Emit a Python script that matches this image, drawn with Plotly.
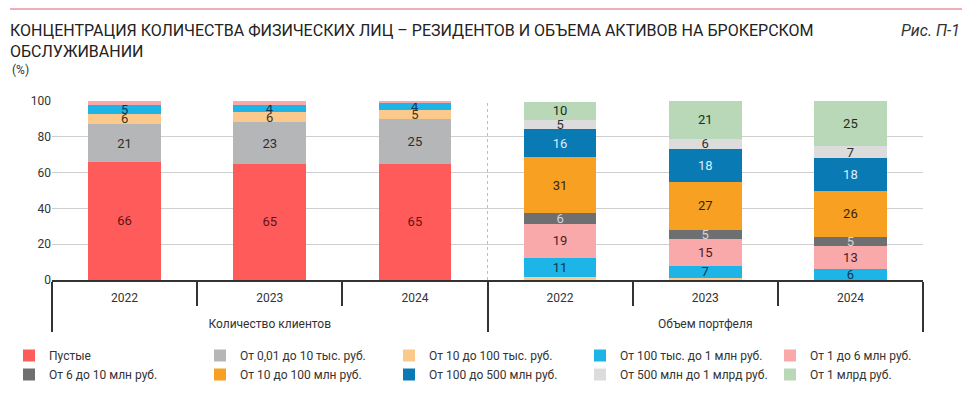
import plotly.graph_objects as go

# ---- data ----
groups = ["Количество клиентов"] * 3 + ["Объем портфеля"] * 3
years = ["2022", "2023", "2024"] * 2

series_names = [
    "Пустые",
    "От 0,01 до 10 тыс. руб.",
    "От 10 до 100 тыс. руб.",
    "От 100 тыс. до 1 млн руб.",
    "От 1 до 6 млн руб.",
    "От 6 до 10 млн руб.",
    "От 10 до 100 млн руб.",
    "От 100 до 500 млн руб.",
    "От 500 млн до 1 млрд руб.",
    "От 1 млрд руб.",
]
pustye        = [66, 65, 65, 0, 0, 0]
r_001_10k     = [21, 23, 25, 0.5, 0, 0]
r_10_100k     = [6, 6, 5, 1, 1, 0]
r_100k_1m     = [5, 4, 4, 11, 7, 6]
r_1_6m        = [2, 2, 1, 19, 15, 13]
r_6_10m       = [0, 0, 0, 6, 5, 5]
r_10_100m     = [0, 0, 0, 31, 27, 26]
r_100_500m    = [0, 0, 0, 16, 18, 18]
r_500m_1bn    = [0, 0, 0, 5, 6, 7]
r_1bn         = [0, 0, 0, 10, 21, 25]

series_values = [pustye, r_001_10k, r_10_100k, r_100k_1m, r_1_6m,
                 r_6_10m, r_10_100m, r_100_500m, r_500m_1bn, r_1bn]

colors = ["#FF5B5B", "#B5B6B8", "#FAC98B", "#1DB4E8", "#F9A9AA",
          "#6E6F71", "#F8A021", "#0A7AB5", "#DCDCDD", "#B8D8B7"]
text_colors = ["#5E1414", "#2E2E2E", "#3E3320", "#0E3550", "#4A1C1C",
               "#D6D6D6", "#33260E", "#D8EEFA", "#2E2E2E", "#1E2E1E"]

FONT = "Roboto, Arial, sans-serif"

W, H = 975, 394
ML, MR, MT, MB = 52, 52, 101, 114
plot_w = W - ML - MR
plot_h = H - MT - MB

legend_ids = ["legend", "legend2", "legend3", "legend4", "legend5"]
col_marker_x = [35, 226, 415, 606, 796]

fig = go.Figure()
for i, (name, vals, c, tc) in enumerate(zip(series_names, series_values, colors, text_colors)):
    fig.add_trace(go.Bar(
        name=name,
        x=[groups, [y + "<br> " for y in years]],
        y=vals,
        marker=dict(color=c, line=dict(width=0)),
        text=[str(int(v)) if v >= 4 else "" for v in vals],
        textposition="inside",
        insidetextanchor="middle",
        textangle=0,
        textfont=dict(color=tc, size=13, family=FONT),
        hoverinfo="skip",
        legend=legend_ids[i % 5],
        legendgroup=name,
    ))

layout_legends = {}
for k, lid in enumerate(legend_ids):
    layout_legends[lid] = dict(
        orientation="v",
        xref="container", x=(col_marker_x[k] - 26) / W, xanchor="left",
        yref="container", y=1 - 341 / H, yanchor="top",
        font=dict(family=FONT, size=12, color="#333333"),
        traceorder="normal",
        tracegroupgap=2,
        bgcolor="rgba(0,0,0,0)",
        itemclick=False, itemdoubleclick=False,
    )

fig.update_layout(
    barmode="stack",
    bargap=0.5,
    width=W, height=H,
    margin=dict(l=ML, r=MR, t=MT, b=MB, autoexpand=False),
    paper_bgcolor="white",
    plot_bgcolor="white",
    font=dict(family=FONT, size=12, color="#333333"),
    uniformtext=dict(minsize=13, mode="show"),
    title=dict(
        text="КОНЦЕНТРАЦИЯ КОЛИЧЕСТВА ФИЗИЧЕСКИХ ЛИЦ – РЕЗИДЕНТОВ И ОБЪЕМА АКТИВОВ НА БРОКЕРСКОМ<br>ОБСЛУЖИВАНИИ",
        font=dict(family=FONT, size=16, color="#222222"),
        xref="container", x=10 / W, xanchor="left",
        yref="container", y=1 - 36 / H, yanchor="top",
    ),
    showlegend=True,
    xaxis=dict(
        type="multicategory",
        showline=True, linecolor="#333333", linewidth=1.5,
        ticks="outside", tickson="boundaries", ticklen=24,
        tickcolor="#333333", tickwidth=1.5,
        showdividers=True, dividercolor="#333333", dividerwidth=1.5,
        showgrid=False,
        ticklabelstandoff=6,
        tickfont=dict(family=FONT, size=12, color="#333333"),
        automargin=False,
        fixedrange=True,
    ),
    yaxis=dict(
        range=[0, 100],
        tickvals=[0, 20, 40, 60, 80, 100],
        showgrid=True, gridcolor="#CFCFCF", gridwidth=1,
        zeroline=False, showline=False,
        tickfont=dict(family=FONT, size=12, color="#333333"),
        fixedrange=True,
        automargin=False,
    ),
    **layout_legends,
)

# pink rule at the top of the figure
fig.add_shape(type="line", xref="paper", yref="paper",
              x0=(10 - ML) / plot_w, x1=(962 - ML) / plot_w,
              y0=(H - MB - 9) / plot_h, y1=(H - MB - 9) / plot_h,
              line=dict(color="#E8949C", width=1.5))
# dotted separator between the two groups
fig.add_shape(type="line", xref="paper", yref="paper",
              x0=0.5, x1=0.5, y0=0, y1=1,
              line=dict(color="#BDBDBD", width=1, dash="dot"))

fig.add_annotation(text="<i>Рис. П-1</i>", xref="paper", yref="paper",
                   x=(962 - ML) / plot_w, y=(H - MB - 30) / plot_h,
                   xanchor="right", yanchor="middle", showarrow=False,
                   font=dict(family=FONT, size=16, color="#333333"))
fig.add_annotation(text="(%)", xref="paper", yref="paper",
                   x=(10 - ML) / plot_w, y=(H - MB - 70) / plot_h,
                   xanchor="left", yanchor="middle", showarrow=False,
                   font=dict(family=FONT, size=12, color="#333333"))

fig.write_html("out.html", config={"displayModeBar": False},
               post_script="document.body.style.margin='0';")
